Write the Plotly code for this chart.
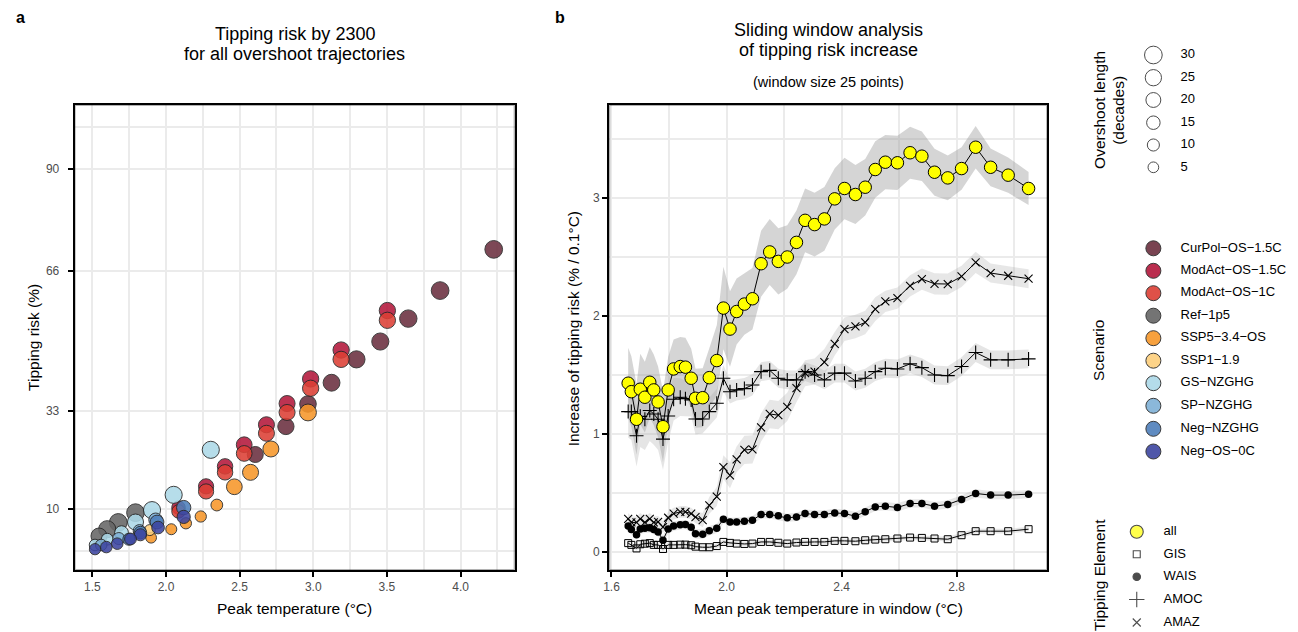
import plotly.graph_objects as go

W, H = 1298, 632
FONT = "Liberation Sans, Arial, sans-serif"

# ---------------- Panel a data: peak temperature (°C), tipping risk (%), overshoot length (decades)
curpol_temp = [4.225, 3.861, 3.645, 3.455, 3.293, 3.124, 2.964, 2.814, 2.606]
curpol_risk = [71.1, 61.4, 54.8, 49.4, 45.2, 39.7, 34.7, 29.4, 22.8]
curpol_len = [30, 30, 29, 28, 28, 27, 26, 25, 24]

modact15_temp = [3.503, 3.189, 2.982, 2.822, 2.682, 2.531, 2.401, 2.272, 2.085]
modact15_risk = [56.7, 47.4, 40.6, 34.8, 29.8, 25.1, 20.0, 15.3, 10.3]
modact15_len = [25, 25, 25, 24, 24, 23, 22, 21, 15]

modact1_temp = [3.503, 3.189, 2.982, 2.822, 2.682, 2.531, 2.401, 2.272, 2.085]
modact1_risk = [54.4, 45.2, 38.4, 32.7, 27.8, 23.05, 18.6, 14.1, 9.4]
modact1_len = [25, 25, 25, 24, 24, 23, 22, 21, 15]

ref_temp = [1.793, 1.676, 1.601, 1.545]
ref_risk = [9.1, 6.8, 5.2, 3.6]
ref_len = [30, 30, 28, 24]

ssp534_temp = [2.964, 2.712, 2.574, 2.464, 2.345, 2.236, 2.135, 2.036, 1.899]
ssp534_risk = [32.7, 24.1, 18.6, 15.2, 10.9, 8.2, 6.6, 5.2, 3.2]
ssp534_len = [27, 24, 24, 23, 9, 7, 7, 6, 5]

ssp119_temp = [1.89]
ssp119_risk = [5.0]
ssp119_len = [6]

gs_temp = [2.304, 2.052, 1.905, 1.793, 1.698, 1.601, 1.518]
gs_risk = [23.9, 13.3, 9.7, 6.9, 4.4, 2.85, 1.5]
gs_len = [28, 28, 28, 24, 16, 9, 8]

sp_temp = [1.93, 1.82, 1.68, 1.56]
sp_risk = [7.4, 4.8, 3.0, 1.5]
sp_len = [16, 12, 10, 8]

negnz_temp = [2.12, 1.939, 1.826, 1.748]
negnz_risk = [10.3, 6.9, 4.4, 2.85]
negnz_len = [18, 16, 12, 10]

negos_temp = [2.12, 1.946, 1.826, 1.759, 1.669, 1.595, 1.518]
negos_risk = [8.1, 5.6, 3.9, 2.9, 1.8, 1.0, 0.5]
negos_len = [14, 12, 10, 9, 8, 8, 7]

scenario_names = ["CurPol−OS−1.5C", "ModAct−OS−1.5C", "ModAct−OS−1C", "Ref−1p5", "SSP5−3.4−OS",
                  "SSP1−1.9", "GS−NZGHG", "SP−NZGHG", "Neg−NZGHG", "Neg−OS−0C"]
scenario_colors = ["#6b2f3f", "#b3173b", "#dc3f35", "#666666", "#f7972a",
                   "#fdcf7c", "#acd9e8", "#7fb1d6", "#4e7fbb", "#3d45a0"]

overshoot_legend = [30, 25, 20, 15, 10, 5]

a_xticks = [1.5, 2.0, 2.5, 3.0, 3.5, 4.0]
a_yticks = [10, 33, 66, 90]

# ---------------- Panel b data: sliding-window results
win_temp = [1.658, 1.669, 1.687, 1.700, 1.716, 1.733, 1.747, 1.762, 1.779, 1.797, 1.816, 1.839,
            1.857, 1.877, 1.892, 1.917, 1.940, 1.966, 1.989, 2.012, 2.035, 2.062, 2.090, 2.120,
            2.150, 2.180, 2.211, 2.243, 2.273, 2.306, 2.340, 2.376, 2.410, 2.448, 2.482, 2.517,
            2.552, 2.594, 2.638, 2.679, 2.723, 2.769, 2.817, 2.866, 2.918, 2.979, 3.050]

all_inc = [1.431, 1.359, 1.125, 1.380, 1.312, 1.439, 1.374, 1.272, 1.062, 1.374, 1.552, 1.572,
           1.567, 1.473, 1.303, 1.308, 1.478, 1.623, 2.068, 1.890, 2.039, 2.102, 2.147, 2.444,
           2.544, 2.464, 2.501, 2.625, 2.812, 2.776, 2.824, 2.994, 3.082, 3.031, 3.093, 3.243,
           3.305, 3.300, 3.385, 3.356, 3.220, 3.172, 3.251, 3.432, 3.262, 3.195, 3.082]
all_spread = [0.30, 0.30, 0.30, 0.30, 0.30, 0.30, 0.30, 0.30, 0.30, 0.28, 0.25, 0.25,
              0.25, 0.25, 0.25, 0.25, 0.25, 0.30, 0.35, 0.32, 0.28, 0.26, 0.26, 0.28,
              0.28, 0.28, 0.27, 0.27, 0.27, 0.27, 0.27, 0.26, 0.26, 0.25, 0.24, 0.24,
              0.23, 0.23, 0.22, 0.21, 0.20, 0.19, 0.18, 0.18, 0.16, 0.15, 0.14]

amoc_inc = [1.19, 1.19, 0.985, 1.15, 1.125, 1.20, 1.17, 1.125, 0.957, 1.153, 1.295, 1.312,
            1.30, 1.289, 1.127, 1.127, 1.19, 1.261, 1.473, 1.359, 1.374, 1.385, 1.416, 1.529,
            1.540, 1.473, 1.459, 1.459, 1.529, 1.501, 1.459, 1.516, 1.516, 1.450, 1.473, 1.529,
            1.558, 1.552, 1.595, 1.563, 1.501, 1.495, 1.572, 1.691, 1.629, 1.629, 1.637]
amoc_spread = [0.22, 0.24, 0.26, 0.26, 0.26, 0.26, 0.26, 0.26, 0.26, 0.22, 0.18, 0.16,
               0.15, 0.14, 0.13, 0.12, 0.12, 0.12, 0.11, 0.10, 0.09, 0.09, 0.09, 0.08,
               0.08, 0.08, 0.08, 0.08, 0.08, 0.08, 0.08, 0.08, 0.08, 0.08, 0.08, 0.08,
               0.08, 0.08, 0.08, 0.08, 0.08, 0.08, 0.08, 0.08, 0.08, 0.08, 0.08]

amaz_inc = [0.28, 0.25, 0.25, 0.28, 0.25, 0.28, 0.25, 0.255, 0.21, 0.29, 0.325, 0.34,
            0.34, 0.325, 0.295, 0.27, 0.395, 0.47, 0.72, 0.65, 0.785, 0.865, 0.87, 1.057,
            1.17, 1.16, 1.23, 1.39, 1.516, 1.53, 1.61, 1.765, 1.889, 1.912, 1.946, 2.059,
            2.124, 2.153, 2.257, 2.314, 2.274, 2.272, 2.336, 2.455, 2.365, 2.342, 2.317]
amaz_spread = [0.05, 0.05, 0.05, 0.05, 0.05, 0.05, 0.05, 0.05, 0.05, 0.05, 0.05, 0.05,
               0.05, 0.05, 0.05, 0.06, 0.07, 0.08, 0.10, 0.11, 0.11, 0.12, 0.12, 0.12,
               0.12, 0.12, 0.12, 0.12, 0.11, 0.11, 0.11, 0.10, 0.10, 0.10, 0.10, 0.10,
               0.09, 0.09, 0.09, 0.09, 0.09, 0.09, 0.09, 0.09, 0.08, 0.08, 0.08]

wais_inc = [0.22, 0.19, 0.145, 0.195, 0.20, 0.205, 0.19, 0.17, 0.10, 0.195, 0.22, 0.23,
            0.232, 0.21, 0.155, 0.15, 0.18, 0.20, 0.278, 0.255, 0.255, 0.26, 0.269, 0.318,
            0.318, 0.306, 0.289, 0.297, 0.326, 0.318, 0.318, 0.331, 0.326, 0.303, 0.340, 0.382,
            0.388, 0.377, 0.411, 0.411, 0.388, 0.403, 0.445, 0.496, 0.482, 0.482, 0.490]
wais_spread = [0.04, 0.04, 0.04, 0.04, 0.04, 0.04, 0.04, 0.04, 0.04, 0.04, 0.04, 0.04,
               0.04, 0.04, 0.04, 0.04, 0.04, 0.04, 0.035, 0.035, 0.035, 0.035, 0.035, 0.035,
               0.035, 0.035, 0.035, 0.035, 0.035, 0.035, 0.035, 0.035, 0.035, 0.035, 0.035, 0.035,
               0.035, 0.035, 0.035, 0.035, 0.035, 0.035, 0.035, 0.035, 0.035, 0.035, 0.035]

gis_inc = [0.075, 0.06, 0.03, 0.065, 0.07, 0.075, 0.06, 0.06, 0.025, 0.06, 0.06, 0.062,
           0.062, 0.057, 0.045, 0.04, 0.04, 0.05, 0.085, 0.077, 0.071, 0.068, 0.071, 0.085,
           0.085, 0.078, 0.071, 0.08, 0.085, 0.085, 0.085, 0.094, 0.094, 0.091, 0.099, 0.105,
           0.108, 0.114, 0.122, 0.119, 0.114, 0.108, 0.142, 0.176, 0.176, 0.176, 0.193]
gis_spread = [0.02, 0.02, 0.02, 0.02, 0.02, 0.02, 0.02, 0.02, 0.02, 0.02, 0.02, 0.02,
              0.02, 0.02, 0.02, 0.02, 0.02, 0.02, 0.02, 0.02, 0.02, 0.02, 0.02, 0.02,
              0.02, 0.02, 0.02, 0.02, 0.02, 0.02, 0.02, 0.02, 0.02, 0.02, 0.02, 0.02,
              0.02, 0.02, 0.02, 0.02, 0.02, 0.02, 0.02, 0.02, 0.02, 0.02, 0.02]

b_xticks = [1.6, 2.0, 2.4, 2.8]
b_yticks = [0, 1, 2, 3]

element_names = ["all", "GIS", "WAIS", "AMOC", "AMAZ"]

# ---------------- styles
GRID = "#ebebeb"
TICKC = "#4d4d4d"
TICK_FS = 12
AXT_FS = 15.5
TITLE_FS = 18
LEG_FS = 13


def os_size(length):
    return 9.3 + 0.28 * length


def px_x(x):
    return x / W


def px_y(y):
    return 1 - y / H


fig = go.Figure()

# ---- panel a
panel_a = [
    (curpol_temp, curpol_risk, curpol_len),
    (modact15_temp, modact15_risk, modact15_len),
    (modact1_temp, modact1_risk, modact1_len),
    (ref_temp, ref_risk, ref_len),
    (ssp534_temp, ssp534_risk, ssp534_len),
    (ssp119_temp, ssp119_risk, ssp119_len),
    (gs_temp, gs_risk, gs_len),
    (sp_temp, sp_risk, sp_len),
    (negnz_temp, negnz_risk, negnz_len),
    (negos_temp, negos_risk, negos_len),
]
for (tx, ry, ln), name, col in zip(panel_a, scenario_names, scenario_colors):
    fig.add_trace(go.Scatter(
        x=tx, y=ry, mode="markers", name=name, showlegend=False,
        marker=dict(size=[os_size(v) for v in ln], color=col, opacity=0.88,
                    line=dict(color="#262626", width=1)),
        xaxis="x", yaxis="y"))


# ---- panel b ribbons
def ribbon(vals, spread, fillcol):
    up = [v + s for v, s in zip(vals, spread)]
    lo = [v - s for v, s in zip(vals, spread)]
    fig.add_trace(go.Scatter(
        x=win_temp + win_temp[::-1], y=up + lo[::-1], mode="lines", fill="toself",
        fillcolor=fillcol, line=dict(width=0), showlegend=False, hoverinfo="skip",
        xaxis="x2", yaxis="y2"))


ribbon(all_inc, all_spread, "rgba(150,150,150,0.40)")
ribbon(amoc_inc, amoc_spread, "rgba(170,170,170,0.30)")
ribbon(amaz_inc, amaz_spread, "rgba(170,170,170,0.28)")
ribbon(wais_inc, wais_spread, "rgba(170,170,170,0.28)")
ribbon(gis_inc, gis_spread, "rgba(170,170,170,0.28)")

line_style = dict(color="black", width=1)
fig.add_trace(go.Scatter(x=win_temp, y=gis_inc, mode="lines+markers", line=line_style,
                         marker=dict(symbol="square-open", size=7, color="black",
                                     line=dict(width=1, color="black")),
                         showlegend=False, xaxis="x2", yaxis="y2"))
fig.add_trace(go.Scatter(x=win_temp, y=wais_inc, mode="lines+markers", line=line_style,
                         marker=dict(symbol="circle", size=7.5, color="black"),
                         showlegend=False, xaxis="x2", yaxis="y2"))
fig.add_trace(go.Scatter(x=win_temp, y=amoc_inc, mode="lines+markers", line=line_style,
                         marker=dict(symbol="cross-thin-open", size=10, color="black",
                                     line=dict(width=1.1, color="black")),
                         showlegend=False, xaxis="x2", yaxis="y2"))
fig.add_trace(go.Scatter(x=win_temp, y=amaz_inc, mode="lines+markers", line=line_style,
                         marker=dict(symbol="x-thin-open", size=8, color="black",
                                     line=dict(width=1.1, color="black")),
                         showlegend=False, xaxis="x2", yaxis="y2"))
fig.add_trace(go.Scatter(x=win_temp, y=all_inc, mode="lines+markers", line=line_style,
                         marker=dict(symbol="circle", size=12.5, color="#ffff00",
                                     line=dict(width=1, color="black")),
                         showlegend=False, xaxis="x2", yaxis="y2"))

# ---- legend area (pixel coordinate axes)
LX = 1075
size_y = [55, 77.7, 100, 122.7, 145, 167.3]
fig.add_trace(go.Scatter(x=[1152.7] * 6, y=size_y, mode="markers",
                         marker=dict(size=[os_size(v) for v in overshoot_legend], color="white",
                                     line=dict(color="black", width=1)),
                         showlegend=False, xaxis="x3", yaxis="y3"))
fig.add_trace(go.Scatter(x=[1180] * 6, y=size_y, mode="text",
                         text=[str(v) for v in overshoot_legend], textposition="middle right",
                         textfont=dict(family=FONT, size=LEG_FS, color="black"),
                         showlegend=False, xaxis="x3", yaxis="y3"))

scen_y = [248.3, 270.8, 293.2, 315.7, 338.2, 360.7, 383.2, 405.8, 428.8, 451.5]
fig.add_trace(go.Scatter(x=[1152.7] * 10, y=scen_y, mode="markers",
                         marker=dict(size=15, color=scenario_colors, opacity=0.9,
                                     line=dict(color="#262626", width=1)),
                         showlegend=False, xaxis="x3", yaxis="y3"))
fig.add_trace(go.Scatter(x=[1180] * 10, y=scen_y, mode="text", text=scenario_names,
                         textposition="middle right",
                         textfont=dict(family=FONT, size=LEG_FS, color="black"),
                         showlegend=False, xaxis="x3", yaxis="y3"))

el_y = [531.7, 554.3, 576.7, 599.5, 622.5]
el_sym = ["circle", "square-open", "circle", "cross-thin-open", "x-thin-open"]
el_size = [13, 7, 7.5, 11, 8]
el_col = ["#ffff00", "black", "black", "black", "black"]
fig.add_trace(go.Scatter(x=[1136] * 5, y=el_y, mode="markers",
                         marker=dict(symbol=el_sym, size=el_size, color=el_col,
                                     line=dict(color="black", width=1.1)),
                         showlegend=False, xaxis="x3", yaxis="y3"))
fig.add_trace(go.Scatter(x=[1163] * 5, y=el_y, mode="text", text=element_names,
                         textposition="middle right",
                         textfont=dict(family=FONT, size=LEG_FS, color="black"),
                         showlegend=False, xaxis="x3", yaxis="y3"))

# ---- axes
frame = dict(showline=True, linecolor="black", linewidth=2, mirror=True, zeroline=False,
             ticks="outside", ticklen=5, tickwidth=1.5, tickcolor="black",
             tickfont=dict(family=FONT, size=TICK_FS, color=TICKC),
             showgrid=True, gridcolor=GRID, gridwidth=2, layer="above traces")

top, bot = 105, 570
fig.update_layout(
    width=W, height=H, margin=dict(l=0, r=0, t=0, b=0),
    paper_bgcolor="white", plot_bgcolor="white", template="simple_white",
    font=dict(family=FONT, color="black"),
    xaxis=dict(domain=[px_x(69), px_x(511)], range=[1.38, 4.367], anchor="y",
               tickmode="array", tickvals=a_xticks, ticktext=[f"{v:.1f}" for v in a_xticks],
               minor=dict(tickmode="linear", tick0=0, dtick=0.25, showgrid=True,
                          gridcolor=GRID, gridwidth=2, ticks=""),
               **frame),
    yaxis=dict(domain=[px_y(bot), px_y(top)], range=[-4.4, 105.1], anchor="x",
               tickmode="array", tickvals=a_yticks, ticktext=[str(v) for v in a_yticks],
               minor=dict(tickmode="array", tickvals=[0, 100], showgrid=True,
                          gridcolor=GRID, gridwidth=2, ticks=""),
               ticklabelstandoff=6,
               **frame),
    xaxis2=dict(domain=[px_x(606), px_x(1046)], range=[1.592, 3.1146], anchor="y2",
                tickmode="array", tickvals=b_xticks, ticktext=[f"{v:.1f}" for v in b_xticks],
                minor=dict(tickmode="linear", tick0=0, dtick=0.2, showgrid=True,
                           gridcolor=GRID, gridwidth=2, ticks=""),
                **frame),
    yaxis2=dict(domain=[px_y(bot), px_y(top)], range=[-0.153, 3.79], anchor="x2",
                tickmode="array", tickvals=b_yticks, ticktext=[str(v) for v in b_yticks],
                minor=dict(tickmode="linear", tick0=0, dtick=0.5, showgrid=True,
                           gridcolor=GRID, gridwidth=2, ticks=""),
                **frame),
    xaxis3=dict(domain=[px_x(LX), 1], range=[LX, W], visible=False, fixedrange=True,
                anchor="y3"),
    yaxis3=dict(domain=[0, 1], range=[H, 0], visible=False, fixedrange=True, anchor="x3"),
)

# black panel frames
for x0, x1 in [(69, 511), (606, 1046)]:
    fig.add_shape(type="rect", xref="paper", yref="paper",
                  x0=px_x(x0), x1=px_x(x1), y0=px_y(bot), y1=px_y(top),
                  line=dict(color="black", width=2), fillcolor="rgba(0,0,0,0)", layer="above")


def ann(text, x, y, size, angle=0, bold=False, color="black", xanchor="center"):
    fig.add_annotation(text=f"<b>{text}</b>" if bold else text, x=px_x(x), y=px_y(y),
                       xref="paper", yref="paper", showarrow=False, textangle=angle,
                       xanchor=xanchor, yanchor="middle",
                       font=dict(family=FONT, size=size, color=color))


ann("a", 15, 17, 16, bold=True)
ann("b", 557, 17, 16, bold=True)
ann("Tipping risk by 2300", 290, 34, TITLE_FS)
ann("for all overshoot trajectories", 290, 54, TITLE_FS)
ann("Sliding window analysis", 826, 30, TITLE_FS)
ann("of tipping risk increase", 826, 50, TITLE_FS)
ann("(window size 25 points)", 826, 82, 14.5)
ann("Peak temperature (°C)", 290, 608, AXT_FS)
ann("Mean peak temperature in window (°C)", 826, 608, AXT_FS)
ann("Tipping risk (%)", 27, 337, AXT_FS, angle=-90)
ann("Increase of tipping risk (% / 0.1°C)", 570, 329, AXT_FS, angle=-90)
ann("Overshoot length", 1098, 110, AXT_FS, angle=-90)
ann("(decades)", 1117, 110, AXT_FS, angle=-90)
ann("Scenario", 1098, 350, AXT_FS, angle=-90)
ann("Tipping Element", 1098, 575, AXT_FS, angle=-90)

fig.write_html("out.html")
